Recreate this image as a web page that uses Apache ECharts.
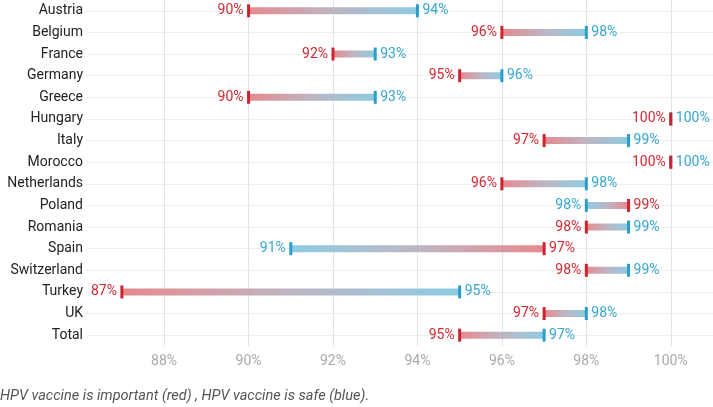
<!DOCTYPE html>
<html><head><meta charset="utf-8">
<script src="https://cdn.jsdelivr.net/npm/echarts@6/dist/echarts.min.js"></script>
<style>html,body{margin:0;padding:0;background:#fff}#c{width:713px;height:407px}</style>
</head><body><div id="c"></div>
<script>
const categories = ['Austria','Belgium','France','Germany','Greece','Hungary','Italy','Morocco','Netherlands','Poland','Romania','Spain','Switzerland','Turkey','UK','Total'];
const importantRed = [90,96,92,95,90,100,97,100,96,99,98,97,98,87,97,95];
const safeBlue = [94,98,93,96,93,100,99,100,98,98,99,91,99,95,98,97];
const xTicks = [88,90,92,94,96,98,100];
const caption = 'HPV vaccine is important (red) , HPV vaccine is safe (blue).';

const RED = '#cb2430', BLUE = '#2a9dcb', REDTXT = '#d02a33', BLUETXT = '#36a6cf';
const FONT = 'Roboto';
const data = categories.map((c,i)=>[i, importantRed[i], safeBlue[i]]);

const chart = echarts.init(document.getElementById('c'), null, {renderer:'canvas'});
chart.setOption({
  animation:false,
  title:{text:caption,left:0,top:389,padding:0,textStyle:{fontFamily:FONT,fontSize:14.5,fontStyle:'italic',fontWeight:'normal',color:'#555'}},
  grid:{left:86,right:0,top:-2,bottom:61,containLabel:false},
  xAxis:{type:'value',min:86.15,max:101,
    axisLine:{show:false},axisTick:{show:false,customValues:xTicks},
    axisLabel:{customValues:xTicks,formatter:v=>v+'%',color:'#a9a9a9',fontFamily:FONT,fontSize:14,margin:8},
    splitLine:{show:true,lineStyle:{color:'#e3e3e3',width:1}}},
  yAxis:{type:'category',data:categories,inverse:true,
    axisLine:{show:false},axisTick:{show:false,alignWithLabel:true},
    axisLabel:{color:'#222',fontFamily:FONT,fontSize:14,margin:3},
    splitLine:{show:true,alignWithLabel:true,lineStyle:{color:'#efefef',width:1}}},
  series:[{type:'custom',data:data,encode:{x:[1,2],y:0},
    renderItem:function(params,api){
      const idx=api.value(0), r=api.value(1), b=api.value(2);
      const pR=api.coord([r,idx]), pB=api.coord([b,idx]);
      const y=pR[1];
      const ch=[];
      if(r!==b){
        const x0=Math.min(pR[0],pB[0]), x1=Math.max(pR[0],pB[0]);
        ch.push({type:'rect',shape:{x:x0,y:y-3.5,width:x1-x0,height:7},
          style:{fill:new echarts.graphic.LinearGradient(pR[0],0,pB[0],0,[
            {offset:0,color:'#e7898e'},{offset:0.5,color:'#bdb6c3'},{offset:1,color:'#8dcbe3'}],true)}});
      }
      ch.push({type:'rect',shape:{x:pB[0]-1.5,y:y-6.5,width:3,height:13},style:{fill:BLUE}});
      ch.push({type:'rect',shape:{x:pR[0]-1.5,y:y-6.5,width:3,height:13},style:{fill:RED}});
      const redLeft = r<=b;
      ch.push({type:'text',x:pR[0]+(redLeft?-5:5),y:y,style:{text:r+'%',fill:REDTXT,font:'14px '+FONT,align:redLeft?'right':'left',verticalAlign:'middle'}});
      ch.push({type:'text',x:pB[0]+(redLeft?5:-5),y:y,style:{text:b+'%',fill:BLUETXT,font:'14px '+FONT,align:redLeft?'left':'right',verticalAlign:'middle'}});
      return {type:'group',children:ch};
    }}]
});
</script></body></html>
